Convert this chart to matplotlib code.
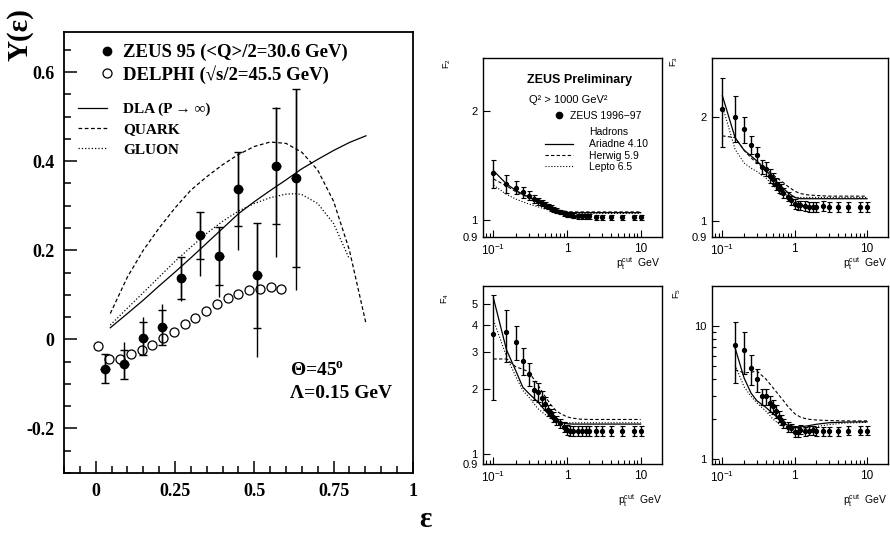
import matplotlib
matplotlib.use('Agg')
import matplotlib.pyplot as plt
from matplotlib.lines import Line2D
from matplotlib.ticker import NullFormatter

plt.rcParams['mathtext.fontset'] = 'custom'
plt.rcParams['mathtext.rm'] = 'Liberation Sans'
plt.rcParams['mathtext.it'] = 'Liberation Sans'
plt.rcParams['mathtext.bf'] = 'Liberation Serif:bold'

# ---- left figure: Y(eps) ----
eps_zeus = [0.03, 0.09, 0.15, 0.21, 0.27, 0.33, 0.39, 0.45, 0.51, 0.57, 0.63]
y_zeus = [-0.066, -0.056, 0.002, 0.027, 0.138, 0.234, 0.187, 0.338, 0.144, 0.389, 0.362]
stat_zeus = [0.033, 0.033, 0.037, 0.040, 0.047, 0.053, 0.066, 0.083, 0.118, 0.131, 0.200]
tot_lo = [0.033, 0.033, 0.033, 0.040, 0.053, 0.092, 0.091, 0.138, 0.183, 0.204, 0.252]
tot_hi = [0.033, 0.049, 0.048, 0.053, 0.047, 0.052, 0.065, 0.082, 0.118, 0.132, 0.200]

eps_delphi = [0.007, 0.043, 0.077, 0.11, 0.145, 0.178, 0.212, 0.246, 0.28, 0.313,
              0.347, 0.381, 0.416, 0.449, 0.483, 0.517, 0.552, 0.585]
y_delphi = [-0.014, -0.043, -0.043, -0.033, -0.024, -0.013, 0.002, 0.017, 0.034, 0.049,
            0.063, 0.079, 0.092, 0.101, 0.110, 0.114, 0.118, 0.114]

eps_dla = [0.046, 0.1, 0.15, 0.2, 0.25, 0.3, 0.35, 0.4, 0.45, 0.5, 0.55, 0.6, 0.65, 0.7, 0.75, 0.8, 0.852]
y_dla = [0.026, 0.058, 0.088, 0.12, 0.151, 0.183, 0.216, 0.249, 0.282, 0.309, 0.334, 0.358, 0.383, 0.404, 0.424, 0.442, 0.457]
eps_quark = [0.046, 0.1, 0.15, 0.2, 0.25, 0.3, 0.35, 0.4, 0.45, 0.5, 0.55, 0.6, 0.65, 0.7, 0.75, 0.8, 0.852]
y_quark = [0.058, 0.14, 0.2, 0.25, 0.295, 0.335, 0.365, 0.392, 0.415, 0.433, 0.443, 0.44, 0.42, 0.38, 0.31, 0.2, 0.036]
eps_gluon = [0.046, 0.1, 0.15, 0.2, 0.25, 0.3, 0.35, 0.4, 0.45, 0.5, 0.55, 0.6, 0.63, 0.65, 0.7, 0.75, 0.8]
y_gluon = [0.032, 0.07, 0.105, 0.14, 0.175, 0.207, 0.238, 0.265, 0.288, 0.305, 0.318, 0.326, 0.327, 0.325, 0.305, 0.26, 0.18]

# ---- right figure: F_q vs pt cut ----
pt_cut = [0.1, 0.15, 0.2, 0.25, 0.3, 0.35, 0.4, 0.45, 0.5, 0.55, 0.6, 0.65, 0.7, 0.8,
          0.9, 1.0, 1.1, 1.2, 1.4, 1.6, 1.8, 2.0, 2.5, 3.0, 4.0, 5.5, 8.0, 10.0]
f2 = [1.35, 1.26, 1.23, 1.196, 1.17, 1.147, 1.13, 1.115, 1.103, 1.092, 1.082, 1.073, 1.064, 1.055,
      1.046, 1.037, 1.035, 1.03, 1.025, 1.025, 1.025, 1.025, 1.02, 1.02, 1.02, 1.02, 1.02, 1.02]
f2_err = [0.12, 0.07, 0.05, 0.04, 0.035, 0.03, 0.025, 0.022, 0.02, 0.02, 0.018, 0.018, 0.017, 0.016,
          0.016, 0.015, 0.015, 0.015, 0.015, 0.015, 0.015, 0.015, 0.015, 0.015, 0.015, 0.016, 0.016, 0.016]
f3 = [2.11, 1.99, 1.84, 1.66, 1.55, 1.434, 1.411, 1.35, 1.32, 1.282, 1.249, 1.235, 1.208, 1.174,
      1.148, 1.122, 1.11, 1.11, 1.105, 1.10, 1.10, 1.10, 1.105, 1.10, 1.10, 1.10, 1.10, 1.10]
f3_err = [0.47, 0.3, 0.16, 0.1, 0.08, 0.07, 0.065, 0.06, 0.055, 0.05, 0.045, 0.04, 0.04, 0.035,
          0.035, 0.035, 0.035, 0.035, 0.035, 0.035, 0.035, 0.035, 0.035, 0.035, 0.035, 0.038, 0.038, 0.038]
f4 = [3.63, 3.69, 3.34, 2.72, 2.36, 1.99, 1.95, 1.82, 1.72, 1.60, 1.55, 1.49, 1.44, 1.39,
      1.34, 1.294, 1.28, 1.28, 1.28, 1.28, 1.28, 1.28, 1.28, 1.28, 1.28, 1.28, 1.28, 1.28]
f4_err = [1.85, 1.0, 0.6, 0.38, 0.28, 0.21, 0.2, 0.14, 0.12, 0.1, 0.08, 0.075, 0.07, 0.07,
          0.07, 0.07, 0.07, 0.07, 0.07, 0.07, 0.07, 0.07, 0.07, 0.07, 0.07, 0.07, 0.07, 0.07]
pt_cut5 = pt_cut[1:]
f5 = [7.27, 6.66, 4.84, 4.0, 2.96, 2.96, 2.63, 2.49, 2.30, 2.09, 1.97, 1.86, 1.75, 1.72,
      1.61, 1.61, 1.67, 1.63, 1.64, 1.65, 1.63, 1.63, 1.63, 1.63, 1.64, 1.64, 1.64]
f5_err = [3.55, 2.3, 1.2, 0.8, 0.42, 0.42, 0.35, 0.3, 0.25, 0.2, 0.17, 0.15, 0.14, 0.13,
          0.13, 0.13, 0.13, 0.13, 0.13, 0.13, 0.13, 0.13, 0.13, 0.13, 0.13, 0.13, 0.13]

mc_x = [0.1, 0.15, 0.2, 0.25, 0.3, 0.4, 0.5, 0.6, 0.7, 0.8, 1.0, 1.2, 1.5, 2.0, 3.0, 5.0, 10.0]
ari_f2 = [1.37, 1.26, 1.21, 1.18, 1.16, 1.125, 1.10, 1.085, 1.072, 1.063, 1.052, 1.05, 1.05, 1.05, 1.05, 1.05, 1.05]
her_f2 = [1.30, 1.245, 1.20, 1.175, 1.155, 1.125, 1.10, 1.085, 1.073, 1.065, 1.057, 1.055, 1.055, 1.055, 1.055, 1.055, 1.055]
lep_f2 = [1.25, 1.18, 1.145, 1.125, 1.11, 1.09, 1.075, 1.065, 1.057, 1.052, 1.046, 1.045, 1.045, 1.045, 1.045, 1.045, 1.045]
ari_f3 = [2.30, 1.74, 1.60, 1.54, 1.49, 1.40, 1.33, 1.28, 1.24, 1.21, 1.17, 1.16, 1.16, 1.16, 1.16, 1.16, 1.16]
her_f3 = [1.76, 1.74, 1.60, 1.52, 1.47, 1.41, 1.36, 1.32, 1.29, 1.26, 1.22, 1.20, 1.19, 1.185, 1.18, 1.18, 1.18]
lep_f3 = [2.15, 1.61, 1.47, 1.42, 1.39, 1.33, 1.27, 1.22, 1.20, 1.185, 1.17, 1.17, 1.17, 1.17, 1.17, 1.17, 1.17]
ari_f4 = [5.3, 3.06, 2.45, 2.05, 1.92, 1.75, 1.60, 1.49, 1.44, 1.41, 1.385, 1.38, 1.38, 1.38, 1.38, 1.38, 1.38]
her_f4 = [2.77, 2.77, 2.55, 2.48, 2.42, 2.10, 1.86, 1.70, 1.60, 1.55, 1.49, 1.47, 1.455, 1.45, 1.45, 1.45, 1.45]
lep_f4 = [4.2, 2.85, 2.3, 1.98, 1.85, 1.63, 1.53, 1.47, 1.43, 1.41, 1.40, 1.40, 1.40, 1.40, 1.40, 1.40, 1.40]
mc_x5 = mc_x[1:]
ari_f5 = [6.86, 4.07, 3.13, 2.75, 2.45, 2.2, 2.02, 1.87, 1.80, 1.76, 1.75, 1.78, 1.83, 1.88, 1.90, 1.91]
her_f5 = [4.7, 4.45, 4.5, 4.6, 4.0, 3.45, 3.05, 2.75, 2.5, 2.2, 2.07, 2.0, 1.97, 1.95, 1.94, 1.94]
lep_f5 = [5.1, 3.5, 2.96, 2.65, 2.3, 2.0, 1.85, 1.76, 1.72, 1.70, 1.70, 1.72, 1.76, 1.82, 1.87, 1.89]

serif = ['Liberation Serif', 'DejaVu Serif']
sans = ['Liberation Sans', 'DejaVu Sans']

fig = plt.figure(figsize=(8.9, 5.37), dpi=100)

ax = fig.add_axes([0.0719, 0.1192, 0.392, 0.8212])
ax.plot(eps_delphi, y_delphi, 'o', mfc='white', mec='k', ms=6.5, mew=0.9, zorder=2)
ax.errorbar(eps_zeus, y_zeus, yerr=[tot_lo, tot_hi], xerr=0.015, fmt='none', ecolor='k',
            elinewidth=1.0, capsize=0, zorder=3)
ax.errorbar(eps_zeus, y_zeus, yerr=stat_zeus, fmt='o', color='k', ms=6, elinewidth=1.0,
            capsize=3, capthick=1.0, zorder=4)
l1, = ax.plot(eps_dla, y_dla, 'k-', lw=0.9)
l2, = ax.plot(eps_quark, y_quark, 'k--', lw=0.9, dashes=(3, 2))
l3, = ax.plot(eps_gluon, y_gluon, 'k:', lw=0.9)
ax.set_xlim(-0.1, 1.0)
ax.set_ylim(-0.3, 0.69)
for s in ax.spines.values():
    s.set_linewidth(1.3)
ax.set_xticks([0, 0.25, 0.5, 0.75, 1.0], labels=['0', '0.25', '0.5', '0.75', '1'],
              family=serif, fontweight='bold', fontsize=13)
ax.set_yticks([-0.2, 0, 0.2, 0.4, 0.6], labels=['-0.2', '0', '0.2', '0.4', '0.6'],
              family=serif, fontweight='bold', fontsize=13)
ax.set_xticks([i * 0.05 - 0.1 for i in range(23)], minor=True)
ax.set_yticks([i * 0.05 - 0.3 for i in range(20)], minor=True)
ax.tick_params(which='both', direction='in', top=False, right=False, width=1.1)
ax.tick_params(which='major', length=9, pad=7)
ax.tick_params(which='minor', length=5)

mk1 = Line2D([], [], marker='o', ls='none', color='k', ms=6)
mk2 = Line2D([], [], marker='o', ls='none', mfc='white', mec='k', ms=6.5, mew=0.9)
leg1 = ax.legend([mk1, mk2], ['ZEUS 95 (<Q>/2=30.6 GeV)', 'DELPHI (\u221as/2=45.5 GeV)'],
                 loc='upper left', bbox_to_anchor=(0.095, 0.973), frameon=False,
                 borderpad=0, borderaxespad=0, handlelength=1.0, handletextpad=0.4,
                 labelspacing=0.2, prop={'family': serif, 'weight': 'bold', 'size': 13.5})
ax.add_artist(leg1)
ax.legend([l1, l2, l3], ['DLA (P \u2192 \u221e)', 'QUARK', 'GLUON'],
          loc='upper left', bbox_to_anchor=(0.04, 0.84), frameon=False,
          borderpad=0, borderaxespad=0, handlelength=1.9, handletextpad=1.05,
          labelspacing=0.42, prop={'family': serif, 'weight': 'bold', 'size': 11})
ax.text(0.648, 0.234, '\u0398=45$^{\\mathbf{o}}$', transform=ax.transAxes, va='center',
        family=serif, fontweight='bold', fontsize=14)
ax.text(0.648, 0.181, '\u039b=0.15 GeV', transform=ax.transAxes, va='center',
        family=serif, fontweight='bold', fontsize=14)
fig.text(0.023, 0.935, 'Y(\u03b5)', rotation=90, ha='center', va='center',
         family=serif, fontweight='bold', fontsize=21)
fig.text(0.478, 0.032, '\u03b5', ha='center', va='center', family=serif,
         fontweight='bold', fontsize=21)

# ---- four small panels ----
panels = [
    ([0.5427, 0.5587, 0.2011, 0.3333], pt_cut, f2, f2_err, mc_x, ari_f2, her_f2, lep_f2,
     (0.9, 2.8), [0.9, 1, 2], ['0.9', '1', '2'], [], 'F$_2$', (0.502, 0.881), (0.717, 0.509)),
    ([0.8, 0.5587, 0.1978, 0.3333], pt_cut, f3, f3_err, mc_x, ari_f3, her_f3, lep_f3,
     (0.9, 2.95), [0.9, 1, 2], ['0.9', '1', '2'], [], 'F$_3$', (0.758, 0.885), (0.972, 0.509)),
    ([0.5427, 0.1359, 0.2011, 0.3315], pt_cut, f4, f4_err, mc_x, ari_f4, her_f4, lep_f4,
     (0.9, 6.05), [0.9, 1, 2, 3, 4, 5], ['0.9', '1', '2', '3', '4', '5'], [], 'F$_4$',
     (0.5, 0.445), (0.719, 0.068)),
    ([0.8, 0.1359, 0.1978, 0.3315], pt_cut5, f5, f5_err, mc_x5, ari_f5, her_f5, lep_f5,
     (0.92, 20), [1, 10], ['1', '10'], [2, 3, 4, 5, 6, 7, 8, 9], 'F$_5$',
     (0.761, 0.454), (0.972, 0.068)),
]

xminor = [0.08, 0.09, 0.2, 0.3, 0.4, 0.5, 0.6, 0.7, 0.8, 0.9, 2, 3, 4, 5, 6, 7, 8, 9]
for (pos, x, y, err, mx, ari, her, lep, ylim, yt, ytl, ymin, flab, fpos, xlpos) in panels:
    a = fig.add_axes(pos)
    a.set_xscale('log')
    a.set_yscale('log')
    a.errorbar(x, y, yerr=err, fmt='o', color='k', ms=2.8, elinewidth=1.0, capsize=1.8,
               capthick=0.8, zorder=4)
    ha, = a.plot(mx, ari, 'k-', lw=0.9)
    hh, = a.plot(mx, her, 'k--', lw=0.8, dashes=(3, 2))
    hl, = a.plot(mx, lep, 'k:', lw=0.8)
    a.set_xlim(0.072, 19.5)
    a.set_ylim(*ylim)
    a.set_xticks([0.1, 1, 10], labels=['$10^{-1}$', '1', '10'], family=sans, fontsize=8.5)
    a.set_xticks(xminor, minor=True)
    a.set_yticks(yt, labels=ytl, family=sans, fontsize=8)
    a.set_yticks(ymin, minor=True)
    a.xaxis.set_minor_formatter(NullFormatter())
    a.yaxis.set_minor_formatter(NullFormatter())
    a.tick_params(which='both', direction='in', top=False, right=False, width=0.8)
    a.tick_params(which='major', length=5, pad=4)
    a.tick_params(which='minor', length=3)
    for s in a.spines.values():
        s.set_linewidth(1.0)
    fig.text(fpos[0], fpos[1], flab, rotation=90, ha='center', va='center', family=sans, fontsize=6.5)
    fig.text(xlpos[0], xlpos[1], 'p$_\\mathrm{t}^\\mathrm{cut}$  GeV', ha='center', va='center',
             family=sans, fontsize=7.5)
    if flab == 'F$_2$':
        a.text(0.542, 0.877, 'ZEUS Preliminary', transform=a.transAxes, ha='center', va='center',
               family=sans, fontweight='bold', fontsize=9)
        a.text(0.475, 0.765, 'Q\u00b2 > 1000 GeV\u00b2', transform=a.transAxes, ha='center',
               va='center', family=sans, fontsize=8)
        a.text(0.592, 0.587, 'Hadrons', transform=a.transAxes, va='center', family=sans, fontsize=7.5)
        mk = Line2D([], [], marker='o', ls='none', color='k', ms=4.5)
        lg = a.legend([mk], ['ZEUS 1996\u221297'], loc='upper left', bbox_to_anchor=(0.396, 0.704),
                      frameon=False, borderpad=0, borderaxespad=0, handlelength=1.0,
                      handletextpad=0.56, prop={'family': sans, 'size': 7.5})
        a.add_artist(lg)
        a.legend([ha, hh, hl], ['Ariadne 4.10', 'Herwig 5.9', 'Lepto 6.5'], loc='upper left',
                 bbox_to_anchor=(0.346, 0.545), frameon=False, borderpad=0, borderaxespad=0,
                 handlelength=2.7, handletextpad=1.54, labelspacing=0.12,
                 prop={'family': sans, 'size': 7.5})

fig.savefig('out.png', dpi=100)
